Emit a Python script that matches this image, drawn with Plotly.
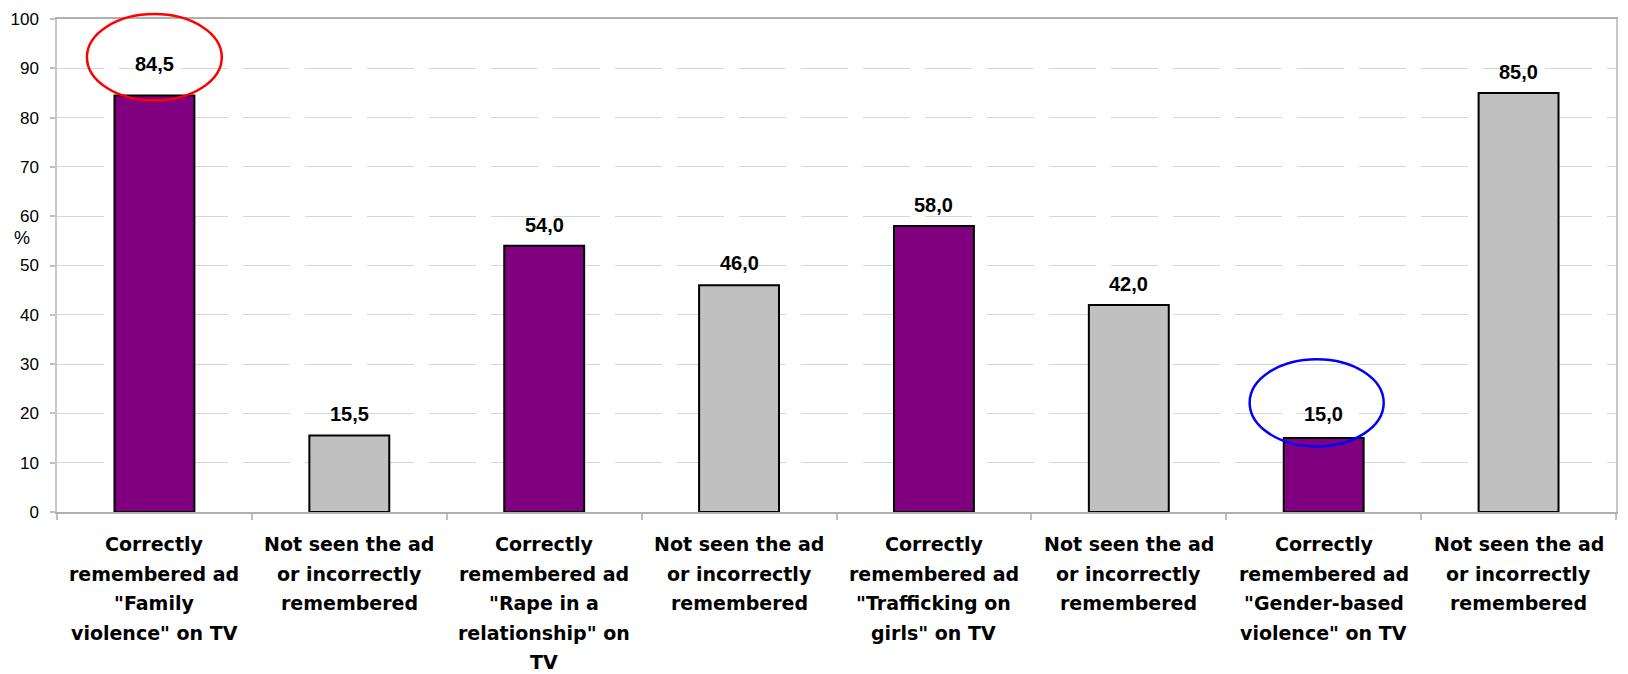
import plotly.graph_objects as go

# Ad recall survey: share of respondents per answer
categories = [
    "Correctly<br>remembered ad<br>\"Family<br>violence\" on TV",
    "Not seen the ad<br>or incorrectly<br>remembered",
    "Correctly<br>remembered ad<br>\"Rape in a<br>relationship\" on<br>TV",
    "Not seen the ad<br>or incorrectly<br>remembered ",
    "Correctly<br>remembered ad<br>\"Trafficking on<br>girls\" on TV",
    "Not seen the ad<br>or incorrectly<br>remembered  ",
    "Correctly<br>remembered ad<br>\"Gender-based<br>violence\" on TV",
    "Not seen the ad<br>or incorrectly<br>remembered   ",
]
values = [84.5, 15.5, 54.0, 46.0, 58.0, 42.0, 15.0, 85.0]
value_labels = ["84,5", "15,5", "54,0", "46,0", "58,0", "42,0", "15,0", "85,0"]
bar_colors = ["#800080", "#C0C0C0"] * 4
label_offsets = [31, 22, 21, 22, 21, 21, 24, 21]

y_ticks = list(range(0, 101, 10))

fig = go.Figure()
fig.add_trace(go.Bar(
    x=list(range(len(values))),
    y=values,
    marker=dict(color=bar_colors, line=dict(color="#000000", width=2)),
    hoverinfo="skip",
))

# value labels above the bars
for i, (v, t) in enumerate(zip(values, value_labels)):
    fig.add_annotation(
        x=i, y=v, xref="x", yref="y", text=f"<b>{t}</b>", showarrow=False,
        yanchor="middle", yshift=label_offsets[i],
        font=dict(family="Liberation Sans, Arial, sans-serif", size=20, color="#000000"),
    )

# category labels, one annotation per line with wide line spacing
for i, cat in enumerate(categories):
    for j, line in enumerate(cat.split("<br>")):
        fig.add_annotation(
            x=i, y=0, xref="x", yref="paper", text=f"<b>{line.strip()}</b>",
            showarrow=False, yanchor="middle", yshift=-32 - 29.5 * j,
            font=dict(family="DejaVu Sans, sans-serif", size=19, color="#000000"),
        )

# axis title
fig.add_annotation(
    x=-0.0225, y=0.556, xref="paper", yref="paper", text="%", showarrow=False,
    xanchor="center", yanchor="middle",
    font=dict(family="Liberation Sans, Arial, sans-serif", size=18, color="#000000"),
)

# highlight ellipses
fig.add_shape(type="circle", xref="paper", yref="paper",
              x0=0.0192, x1=0.1057, y0=0.835, y1=1.010,
              line=dict(color="#FF0000", width=2.5))
fig.add_shape(type="circle", xref="paper", yref="paper",
              x0=0.765, x1=0.851, y0=0.133, y1=0.310,
              line=dict(color="#0000FF", width=2.5))

fig.update_layout(
    width=1628, height=674,
    margin=dict(l=57, r=10, t=16, b=162),
    paper_bgcolor="#FFFFFF", plot_bgcolor="#FFFFFF",
    bargap=0.59, showlegend=False,
    font=dict(family="Liberation Sans, Arial, sans-serif", color="#000000"),
)
fig.update_xaxes(
    range=[-0.5, len(values) - 0.5],
    tickmode="array", tickvals=[i - 0.5 for i in range(len(values) + 1)], ticktext=[""] * (len(values) + 1),
    ticks="outside", ticklen=6, tickcolor="#C0C0C0", tickwidth=1.5,
    showgrid=False, zeroline=False,
    showline=True, linecolor="#B0B0B0", linewidth=1.5, mirror=True,
)
fig.update_yaxes(
    range=[0, 100], tickvals=y_ticks,
    ticks="outside", ticklen=5, tickcolor="#C0C0C0", tickwidth=1.5,
    ticklabelstandoff=8,
    tickfont=dict(family="Liberation Sans, Arial, sans-serif", size=17, color="#000000"),
    showgrid=True, gridcolor="#D6D6D6", gridwidth=1.2, griddash="47px,15px",
    zeroline=False,
    showline=True, linecolor="#C8C8C8", linewidth=1.5, mirror=True,
)

fig.write_html("out.html")
